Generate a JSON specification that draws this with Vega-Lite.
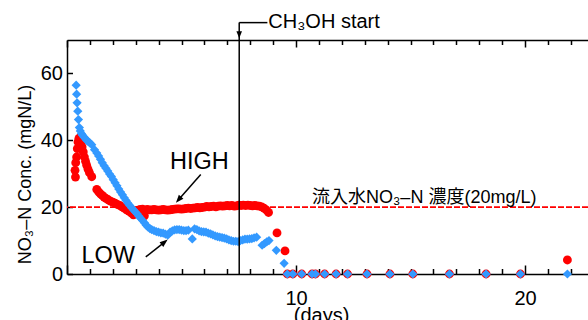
{
  "$schema": "https://vega.github.io/schema/vega-lite/v6.json",
  "width": 521,
  "height": 234,
  "autosize": "none",
  "padding": {"left": 67, "top": 40, "right": 0, "bottom": 46},
  "config": {
    "view": {"stroke": null},
    "font": "Liberation Sans",
    "axis": {
      "grid": false,
      "domainColor": "#000",
      "domainWidth": 1.5,
      "tickColor": "#000",
      "tickWidth": 1.5,
      "labelColor": "#000",
      "titleColor": "#000",
      "labelFontSize": 20,
      "titleFontSize": 18,
      "titleFontWeight": "normal",
      "labelFont": "Liberation Sans",
      "titleFont": "Liberation Sans",
      "labelOverlap": false
    }
  },
  "datasets": {
    "obs": [
      {"day": 0.35, "value": 31, "series": "HIGH"},
      {"day": 0.37, "value": 29, "series": "HIGH"},
      {"day": 0.38, "value": 33.3, "series": "HIGH"},
      {"day": 0.42, "value": 35, "series": "HIGH"},
      {"day": 0.45, "value": 37.5, "series": "HIGH"},
      {"day": 0.48, "value": 39.5, "series": "HIGH"},
      {"day": 0.52, "value": 40.6, "series": "HIGH"},
      {"day": 0.57, "value": 40.5, "series": "HIGH"},
      {"day": 0.62, "value": 39.5, "series": "HIGH"},
      {"day": 0.66, "value": 38, "series": "HIGH"},
      {"day": 0.71, "value": 36.5, "series": "HIGH"},
      {"day": 0.76, "value": 35, "series": "HIGH"},
      {"day": 0.81, "value": 33.7, "series": "HIGH"},
      {"day": 0.86, "value": 32.5, "series": "HIGH"},
      {"day": 0.92, "value": 31.3, "series": "HIGH"},
      {"day": 0.98, "value": 30.3, "series": "HIGH"},
      {"day": 1.08, "value": 29.1, "series": "HIGH"},
      {"day": 1.3, "value": 25.3, "series": "HIGH"},
      {"day": 1.38, "value": 24.6, "series": "HIGH"},
      {"day": 1.46, "value": 24, "series": "HIGH"},
      {"day": 1.54, "value": 23.5, "series": "HIGH"},
      {"day": 1.62, "value": 23, "series": "HIGH"},
      {"day": 1.7, "value": 22.6, "series": "HIGH"},
      {"day": 1.8, "value": 22.2, "series": "HIGH"},
      {"day": 1.9, "value": 21.8, "series": "HIGH"},
      {"day": 2.0, "value": 21.5, "series": "HIGH"},
      {"day": 2.1, "value": 21.2, "series": "HIGH"},
      {"day": 2.2, "value": 20.8, "series": "HIGH"},
      {"day": 2.3, "value": 20.5, "series": "HIGH"},
      {"day": 2.4, "value": 20.1, "series": "HIGH"},
      {"day": 2.5, "value": 19.7, "series": "HIGH"},
      {"day": 2.6, "value": 19.2, "series": "HIGH"},
      {"day": 2.7, "value": 18.8, "series": "HIGH"},
      {"day": 2.8, "value": 18.3, "series": "HIGH"},
      {"day": 2.9, "value": 17.7, "series": "HIGH"},
      {"day": 3.0, "value": 18.8, "series": "HIGH"},
      {"day": 3.1, "value": 19.1, "series": "HIGH"},
      {"day": 3.2, "value": 19.3, "series": "HIGH"},
      {"day": 3.3, "value": 19.4, "series": "HIGH"},
      {"day": 3.38, "value": 17.4, "series": "HIGH"},
      {"day": 3.5, "value": 19.3, "series": "HIGH"},
      {"day": 3.6, "value": 19.2, "series": "HIGH"},
      {"day": 3.7, "value": 19.2, "series": "HIGH"},
      {"day": 3.8, "value": 19.3, "series": "HIGH"},
      {"day": 3.9, "value": 19.2, "series": "HIGH"},
      {"day": 4.0, "value": 19.1, "series": "HIGH"},
      {"day": 4.1, "value": 19.2, "series": "HIGH"},
      {"day": 4.2, "value": 19.3, "series": "HIGH"},
      {"day": 4.3, "value": 19.2, "series": "HIGH"},
      {"day": 4.4, "value": 19.1, "series": "HIGH"},
      {"day": 4.5, "value": 19.2, "series": "HIGH"},
      {"day": 4.6, "value": 19.3, "series": "HIGH"},
      {"day": 4.7, "value": 19.4, "series": "HIGH"},
      {"day": 4.8, "value": 19.5, "series": "HIGH"},
      {"day": 4.9, "value": 19.5, "series": "HIGH"},
      {"day": 5.0, "value": 19.4, "series": "HIGH"},
      {"day": 5.1, "value": 19.5, "series": "HIGH"},
      {"day": 5.2, "value": 19.6, "series": "HIGH"},
      {"day": 5.3, "value": 19.7, "series": "HIGH"},
      {"day": 5.4, "value": 19.6, "series": "HIGH"},
      {"day": 5.5, "value": 19.7, "series": "HIGH"},
      {"day": 5.6, "value": 19.8, "series": "HIGH"},
      {"day": 5.7, "value": 19.9, "series": "HIGH"},
      {"day": 5.8, "value": 19.8, "series": "HIGH"},
      {"day": 5.9, "value": 19.9, "series": "HIGH"},
      {"day": 6.0, "value": 20.0, "series": "HIGH"},
      {"day": 6.1, "value": 20.2, "series": "HIGH"},
      {"day": 6.2, "value": 20.1, "series": "HIGH"},
      {"day": 6.3, "value": 20.2, "series": "HIGH"},
      {"day": 6.4, "value": 20.3, "series": "HIGH"},
      {"day": 6.5, "value": 20.1, "series": "HIGH"},
      {"day": 6.6, "value": 20.3, "series": "HIGH"},
      {"day": 6.7, "value": 20.4, "series": "HIGH"},
      {"day": 6.8, "value": 20.3, "series": "HIGH"},
      {"day": 6.9, "value": 20.4, "series": "HIGH"},
      {"day": 7.0, "value": 20.5, "series": "HIGH"},
      {"day": 7.1, "value": 20.4, "series": "HIGH"},
      {"day": 7.2, "value": 20.5, "series": "HIGH"},
      {"day": 7.3, "value": 20.3, "series": "HIGH"},
      {"day": 7.4, "value": 20.4, "series": "HIGH"},
      {"day": 7.5, "value": 20.6, "series": "HIGH"},
      {"day": 7.6, "value": 20.5, "series": "HIGH"},
      {"day": 7.7, "value": 20.6, "series": "HIGH"},
      {"day": 7.8, "value": 20.5, "series": "HIGH"},
      {"day": 7.9, "value": 20.6, "series": "HIGH"},
      {"day": 8.0, "value": 20.5, "series": "HIGH"},
      {"day": 8.1, "value": 20.4, "series": "HIGH"},
      {"day": 8.2, "value": 20.5, "series": "HIGH"},
      {"day": 8.3, "value": 20.4, "series": "HIGH"},
      {"day": 8.4, "value": 20.3, "series": "HIGH"},
      {"day": 8.5, "value": 20.1, "series": "HIGH"},
      {"day": 8.6, "value": 19.7, "series": "HIGH"},
      {"day": 8.7, "value": 19.2, "series": "HIGH"},
      {"day": 8.8, "value": 18.4, "series": "HIGH"},
      {"day": 9.17, "value": 12.3, "series": "HIGH"},
      {"day": 9.52, "value": 6.9, "series": "HIGH"},
      {"day": 9.62, "value": 0, "series": "HIGH"},
      {"day": 9.86, "value": 0, "series": "HIGH"},
      {"day": 10.25, "value": 0, "series": "HIGH"},
      {"day": 10.7, "value": 0, "series": "HIGH"},
      {"day": 10.85, "value": 0, "series": "HIGH"},
      {"day": 11.25, "value": 0, "series": "HIGH"},
      {"day": 11.75, "value": 0, "series": "HIGH"},
      {"day": 12.25, "value": 0, "series": "HIGH"},
      {"day": 13.1, "value": 0, "series": "HIGH"},
      {"day": 14.1, "value": 0, "series": "HIGH"},
      {"day": 15.1, "value": 0, "series": "HIGH"},
      {"day": 16.7, "value": 0, "series": "HIGH"},
      {"day": 18.3, "value": 0, "series": "HIGH"},
      {"day": 19.8, "value": 0, "series": "HIGH"},
      {"day": 21.85, "value": 4.2, "series": "HIGH"},

      {"day": 0.4, "value": 56.5, "series": "LOW"},
      {"day": 0.42, "value": 53.8, "series": "LOW"},
      {"day": 0.44, "value": 51.2, "series": "LOW"},
      {"day": 0.47, "value": 48.7, "series": "LOW"},
      {"day": 0.5, "value": 46.2, "series": "LOW"},
      {"day": 0.54, "value": 43.8, "series": "LOW"},
      {"day": 0.58, "value": 42.8, "series": "LOW"},
      {"day": 0.63, "value": 42, "series": "LOW"},
      {"day": 0.68, "value": 41.5, "series": "LOW"},
      {"day": 0.74, "value": 41, "series": "LOW"},
      {"day": 0.8, "value": 40.5, "series": "LOW"},
      {"day": 0.86, "value": 40, "series": "LOW"},
      {"day": 0.93, "value": 39.6, "series": "LOW"},
      {"day": 1.0, "value": 39.2, "series": "LOW"},
      {"day": 1.08, "value": 38.7, "series": "LOW"},
      {"day": 1.2, "value": 37.2, "series": "LOW"},
      {"day": 1.3, "value": 36.2, "series": "LOW"},
      {"day": 1.38, "value": 35.3, "series": "LOW"},
      {"day": 1.46, "value": 34.3, "series": "LOW"},
      {"day": 1.54, "value": 33.3, "series": "LOW"},
      {"day": 1.62, "value": 32.4, "series": "LOW"},
      {"day": 1.7, "value": 31.6, "series": "LOW"},
      {"day": 1.78, "value": 30.8, "series": "LOW"},
      {"day": 1.86, "value": 29.9, "series": "LOW"},
      {"day": 1.94, "value": 29.2, "series": "LOW"},
      {"day": 2.02, "value": 28.2, "series": "LOW"},
      {"day": 2.1, "value": 27.3, "series": "LOW"},
      {"day": 2.18, "value": 26.4, "series": "LOW"},
      {"day": 2.26, "value": 25.4, "series": "LOW"},
      {"day": 2.34, "value": 24.5, "series": "LOW"},
      {"day": 2.42, "value": 23.7, "series": "LOW"},
      {"day": 2.5, "value": 22.8, "series": "LOW"},
      {"day": 2.58, "value": 22, "series": "LOW"},
      {"day": 2.66, "value": 21.2, "series": "LOW"},
      {"day": 2.74, "value": 20.5, "series": "LOW"},
      {"day": 2.82, "value": 19.8, "series": "LOW"},
      {"day": 2.9, "value": 19.2, "series": "LOW"},
      {"day": 2.98, "value": 18.6, "series": "LOW"},
      {"day": 3.06, "value": 18, "series": "LOW"},
      {"day": 3.14, "value": 17.3, "series": "LOW"},
      {"day": 3.22, "value": 16.6, "series": "LOW"},
      {"day": 3.3, "value": 16, "series": "LOW"},
      {"day": 3.38, "value": 15.3, "series": "LOW"},
      {"day": 3.46, "value": 14.6, "series": "LOW"},
      {"day": 3.54, "value": 14, "series": "LOW"},
      {"day": 3.62, "value": 13.6, "series": "LOW"},
      {"day": 3.7, "value": 13.3, "series": "LOW"},
      {"day": 3.8, "value": 13, "series": "LOW"},
      {"day": 3.9, "value": 12.7, "series": "LOW"},
      {"day": 4.0, "value": 12.5, "series": "LOW"},
      {"day": 4.1, "value": 12.3, "series": "LOW"},
      {"day": 4.2, "value": 12.2, "series": "LOW"},
      {"day": 4.3, "value": 11.9, "series": "LOW"},
      {"day": 4.4, "value": 11.6, "series": "LOW"},
      {"day": 4.5, "value": 12.5, "series": "LOW"},
      {"day": 4.6, "value": 12.9, "series": "LOW"},
      {"day": 4.7, "value": 13.2, "series": "LOW"},
      {"day": 4.8, "value": 13.3, "series": "LOW"},
      {"day": 4.9, "value": 13.3, "series": "LOW"},
      {"day": 5.0, "value": 13.1, "series": "LOW"},
      {"day": 5.1, "value": 13, "series": "LOW"},
      {"day": 5.2, "value": 13, "series": "LOW"},
      {"day": 5.3, "value": 13.1, "series": "LOW"},
      {"day": 5.47, "value": 10.5, "series": "LOW"},
      {"day": 5.57, "value": 13.5, "series": "LOW"},
      {"day": 5.67, "value": 13.3, "series": "LOW"},
      {"day": 5.77, "value": 12.9, "series": "LOW"},
      {"day": 5.87, "value": 12.7, "series": "LOW"},
      {"day": 5.97, "value": 12.6, "series": "LOW"},
      {"day": 6.07, "value": 12.5, "series": "LOW"},
      {"day": 6.17, "value": 12.2, "series": "LOW"},
      {"day": 6.27, "value": 12, "series": "LOW"},
      {"day": 6.37, "value": 11.7, "series": "LOW"},
      {"day": 6.47, "value": 11.4, "series": "LOW"},
      {"day": 6.57, "value": 11.2, "series": "LOW"},
      {"day": 6.67, "value": 11, "series": "LOW"},
      {"day": 6.77, "value": 10.9, "series": "LOW"},
      {"day": 6.87, "value": 10.7, "series": "LOW"},
      {"day": 6.97, "value": 10.5, "series": "LOW"},
      {"day": 7.07, "value": 10.2, "series": "LOW"},
      {"day": 7.17, "value": 10, "series": "LOW"},
      {"day": 7.27, "value": 9.8, "series": "LOW"},
      {"day": 7.37, "value": 9.8, "series": "LOW"},
      {"day": 7.47, "value": 9.7, "series": "LOW"},
      {"day": 7.57, "value": 10, "series": "LOW"},
      {"day": 7.67, "value": 10.2, "series": "LOW"},
      {"day": 7.77, "value": 10.4, "series": "LOW"},
      {"day": 7.87, "value": 10.4, "series": "LOW"},
      {"day": 7.97, "value": 10.5, "series": "LOW"},
      {"day": 8.07, "value": 10.6, "series": "LOW"},
      {"day": 8.17, "value": 10.8, "series": "LOW"},
      {"day": 8.28, "value": 11, "series": "LOW"},
      {"day": 8.52, "value": 8.6, "series": "LOW"},
      {"day": 8.62, "value": 9.1, "series": "LOW"},
      {"day": 8.72, "value": 9.6, "series": "LOW"},
      {"day": 8.82, "value": 10, "series": "LOW"},
      {"day": 9.14, "value": 7.1, "series": "LOW"},
      {"day": 9.48, "value": 3.2, "series": "LOW"},
      {"day": 9.62, "value": 0, "series": "LOW"},
      {"day": 9.86, "value": 0, "series": "LOW"},
      {"day": 10.25, "value": 0, "series": "LOW"},
      {"day": 10.7, "value": 0, "series": "LOW"},
      {"day": 10.85, "value": 0, "series": "LOW"},
      {"day": 11.25, "value": 0, "series": "LOW"},
      {"day": 11.75, "value": 0, "series": "LOW"},
      {"day": 12.25, "value": 0, "series": "LOW"},
      {"day": 13.1, "value": 0, "series": "LOW"},
      {"day": 14.1, "value": 0, "series": "LOW"},
      {"day": 15.1, "value": 0, "series": "LOW"},
      {"day": 16.7, "value": 0, "series": "LOW"},
      {"day": 18.3, "value": 0, "series": "LOW"},
      {"day": 19.8, "value": 0, "series": "LOW"},
      {"day": 21.85, "value": 0, "series": "LOW"}
    ]
  },
  "data": {"name": "obs"},
  "resolve": {"axis": {"x": "independent"}},
  "layer": [
    {
      "data": {"values": [{}]},
      "mark": {"type": "rule", "color": "#ff0000", "strokeDash": [6, 2], "strokeWidth": 1.6},
      "encoding": {"y": {"datum": 20, "type": "quantitative"}}
    },
    {
      "transform": [{"filter": "datum.series === 'HIGH'"}],
      "mark": {"type": "point", "shape": "circle", "filled": true, "size": 78, "color": "#ff0000", "opacity": 1},
      "encoding": {
        "x": {
          "field": "day", "type": "quantitative",
          "scale": {"domain": [0, 22.75], "nice": false, "zero": false},
          "axis": {
            "orient": "bottom",
            "values": [0,1,2,3,4,5,6,7,8,9,10,11,12,13,14,15,16,17,18,19,20,21,22],
            "tickSize": {"condition": {"test": "datum.value % 10 === 0", "value": -9}, "value": -5.5},
            "labelExpr": "datum.value % 10 === 0 && datum.value > 0 ? datum.label : ''",
            "labelPadding": 23,
            "labelFlush": false,
            "title": "(days)",
            "titleFontSize": 20,
            "titleX": 254,
            "titleY": 31,
            "titleBaseline": "top"
          }
        },
        "y": {
          "field": "value", "type": "quantitative",
          "scale": {"domain": [0, 70], "nice": false},
          "axis": {
            "orient": "left",
            "values": [0, 10, 20, 30, 40, 50, 60],
            "tickSize": -5.5,
            "labelPadding": 10,
            "labelExpr": "datum.value % 20 === 0 ? datum.label : ''",
            "title": "NO₃–N Conc. (mgN/L)",
            "titleX": -33,
            "titleY": 134
          }
        }
      }
    },
    {
      "transform": [{"filter": "datum.series === 'LOW'"}],
      "mark": {"type": "point", "shape": "diamond", "filled": true, "size": 85, "color": "#3399ff", "opacity": 1},
      "encoding": {
        "x": {
          "field": "day", "type": "quantitative",
          "axis": {
            "orient": "top",
            "values": [0,1,2,3,4,5,6,7,8,9,10,11,12,13,14,15,16,17,18,19,20,21,22],
            "tickSize": {"condition": {"test": "datum.value % 10 === 0", "value": -7}, "value": -4.5},
            "labels": false,
            "title": null
          }
        },
        "y": {"field": "value", "type": "quantitative"}
      }
    },
    {
      "data": {"values": [{}]},
      "mark": {"type": "rule", "color": "#000", "strokeWidth": 1.5},
      "encoding": {
        "x": {"datum": 7.52, "type": "quantitative", "axis": null},
        "y": {"datum": 0, "type": "quantitative"},
        "y2": {"datum": 75.2}
      }
    },
    {
      "data": {"values": [{}]},
      "mark": {"type": "rule", "color": "#000", "strokeWidth": 1.5},
      "encoding": {
        "x": {"datum": 7.52, "type": "quantitative", "axis": null},
        "x2": {"datum": 8.75},
        "y": {"datum": 75.2, "type": "quantitative"}
      }
    },
    {
      "data": {"values": [{}]},
      "mark": {"type": "point", "shape": "M0,-1L0.8,1L-0.8,1Z", "filled": true, "size": 49, "color": "#000", "opacity": 1, "angle": 180},
      "encoding": {
        "x": {"datum": 7.52, "type": "quantitative", "axis": null},
        "y": {"datum": 71.6, "type": "quantitative"}
      }
    },
    {
      "data": {"values": [{}]},
      "mark": {"type": "rule", "color": "#000", "strokeWidth": 1.5},
      "encoding": {
        "x": {"datum": 5.84, "type": "quantitative", "axis": null},
        "x2": {"datum": 4.87},
        "y": {"datum": 29.8, "type": "quantitative"},
        "y2": {"datum": 22.2}
      }
    },
    {
      "data": {"values": [{}]},
      "mark": {"type": "point", "shape": "M0,-1L0.75,1L-0.75,1Z", "filled": true, "size": 64, "color": "#000", "opacity": 1, "angle": 220.8},
      "encoding": {
        "x": {"datum": 4.87, "type": "quantitative", "axis": null},
        "y": {"datum": 22.2, "type": "quantitative"}
      }
    },
    {
      "data": {"values": [{}]},
      "mark": {"type": "rule", "color": "#000", "strokeWidth": 1.5},
      "encoding": {
        "x": {"datum": 3.44, "type": "quantitative", "axis": null},
        "x2": {"datum": 4.26},
        "y": {"datum": 5.1, "type": "quantitative"},
        "y2": {"datum": 9.54}
      }
    },
    {
      "data": {"values": [{}]},
      "mark": {"type": "point", "shape": "M0,-1L0.75,1L-0.75,1Z", "filled": true, "size": 64, "color": "#000", "opacity": 1, "angle": 51.6},
      "encoding": {
        "x": {"datum": 4.26, "type": "quantitative", "axis": null},
        "y": {"datum": 9.54, "type": "quantitative"}
      }
    },
    {
      "data": {"values": [{"label": "HIGH"}]},
      "mark": {"type": "text", "align": "left", "baseline": "alphabetic", "fontSize": 23.5, "font": "Liberation Sans", "color": "#000"},
      "encoding": {
        "x": {"datum": 4.5, "type": "quantitative", "axis": null},
        "y": {"datum": 31.3, "type": "quantitative"},
        "text": {"field": "label"}
      }
    },
    {
      "data": {"values": [{"label": "LOW"}]},
      "mark": {"type": "text", "align": "left", "baseline": "alphabetic", "fontSize": 23.5, "font": "Liberation Sans", "color": "#000"},
      "encoding": {
        "x": {"datum": 0.63, "type": "quantitative", "axis": null},
        "y": {"datum": 3.4, "type": "quantitative"},
        "text": {"field": "label"}
      }
    },
    {
      "data": {"values": [{"label": "流入水NO₃–N 濃度(20mg/L)"}]},
      "mark": {"type": "text", "align": "left", "baseline": "alphabetic", "fontSize": 18, "font": "Liberation Sans, Noto Sans CJK JP", "color": "#000"},
      "encoding": {
        "x": {"datum": 10.7, "type": "quantitative", "axis": null},
        "y": {"datum": 21.2, "type": "quantitative"},
        "text": {"field": "label"}
      }
    },
    {
      "data": {"values": [{"label": "CH₃OH start"}]},
      "mark": {"type": "text", "align": "left", "baseline": "alphabetic", "fontSize": 20, "font": "Liberation Sans", "color": "#000"},
      "encoding": {
        "x": {"datum": 8.79, "type": "quantitative", "axis": null},
        "y": {"datum": 73.5, "type": "quantitative"},
        "text": {"field": "label"}
      }
    }
  ]
}
